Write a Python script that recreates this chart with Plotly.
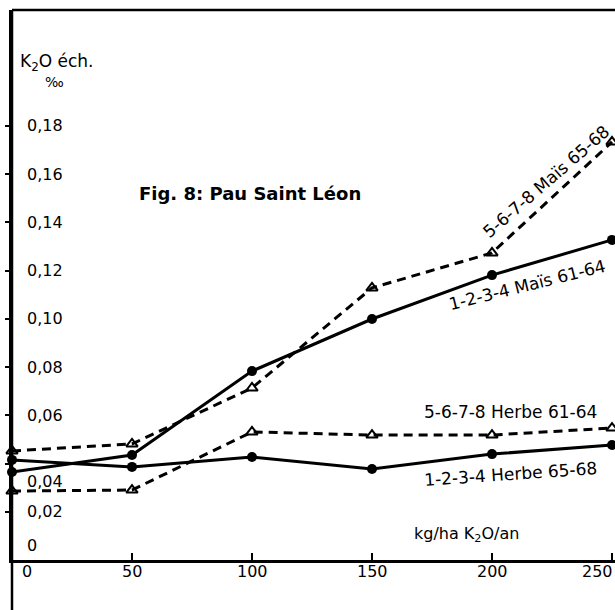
import plotly.graph_objects as go

# ---- data ----
doses = [0, 50, 100, 150, 200, 250]
mais_61_64 = [0.0365, 0.0435, 0.0783, 0.0999, 0.1181, 0.1327]    # 1-2-3-4 Maïs 61-64 (solid, dots)
herbe_65_68 = [0.0415, 0.0386, 0.0427, 0.0377, 0.0439, 0.0477]   # 1-2-3-4 Herbe 65-68 (solid, dots)
mais_65_68 = [0.0452, 0.0481, 0.0713, 0.1128, 0.1273, 0.1733]    # 5-6-7-8 Maïs 65-68 (dashed, triangles)
herbe_61_64 = [0.0286, 0.0290, 0.0531, 0.0518, 0.0518, 0.0547]   # 5-6-7-8 Herbe 61-64 (dashed, triangles)

y_tick_vals = [0, 0.02, 0.04, 0.06, 0.08, 0.10, 0.12, 0.14, 0.16, 0.18]
y_tick_text = ["0", "0,02", "0,04", "0,06", "0,08", "0,10", "0,12", "0,14", "0,16", "0,18"]
x_tick_vals = [0, 50, 100, 150, 200, 250]
x_tick_text = ["0", "50", "100", "150", "200", "250"]

FONT = "DejaVu Sans"

fig = go.Figure()

solid = dict(color="black", width=3)
dashed = dict(color="black", width=3, dash="9px,6px")
dot_marker = dict(symbol="circle", size=10, color="black")
tri_marker = dict(symbol="triangle-up-open", size=10, color="black", line=dict(width=2, color="black"))

fig.add_trace(go.Scatter(x=doses, y=herbe_61_64, mode="lines+markers", line=dashed, marker=tri_marker, cliponaxis=False))
fig.add_trace(go.Scatter(x=doses, y=mais_65_68, mode="lines+markers", line=dashed, marker=tri_marker, cliponaxis=False))
fig.add_trace(go.Scatter(x=doses, y=herbe_65_68, mode="lines+markers", line=solid, marker=dot_marker, cliponaxis=False))
fig.add_trace(go.Scatter(x=doses, y=mais_61_64, mode="lines+markers", line=solid, marker=dot_marker, cliponaxis=False))

ann = []
# y tick labels (inside the axis)
for v, t in zip(y_tick_vals, y_tick_text):
    ys = 0
    if t == "0":
        ys = 15
    elif t == "0,04":
        ys = -18
    ann.append(dict(x=0, y=v, xref="x", yref="y", text=t, showarrow=False,
                    xanchor="left", yanchor="middle", xshift=13, yshift=ys,
                    font=dict(family=FONT, size=16, color="black")))
# x tick labels
for v, t in zip(x_tick_vals, x_tick_text):
    xs = 0
    if v == 0:
        xs = 15
    elif v == 250:
        xs = -15
    ann.append(dict(x=v, y=0, xref="x", yref="y", text=t, showarrow=False,
                    xanchor="center", yanchor="middle", xshift=xs, yshift=-11,
                    font=dict(family=FONT, size=16, color="black")))

lab_font = dict(family=FONT, size=17, color="black")
ann += [
    dict(x=222.9, y=0.157, text="5-6-7-8 Maïs 65-68", textangle=-41, showarrow=False, font=lab_font),
    dict(x=214.6, y=0.114, text="1-2-3-4 Maïs 61-64", textangle=-14, showarrow=False, font=lab_font),
    dict(x=207.9, y=0.0614, text="5-6-7-8 Herbe 61-64", textangle=0, showarrow=False, font=lab_font),
    dict(x=207.9, y=0.0357, text="1-2-3-4 Herbe 65-68", textangle=-4, showarrow=False, font=lab_font),
    dict(x=99.2, y=0.152, text="<b>Fig. 8: Pau Saint Léon</b>", showarrow=False,
         font=dict(family=FONT, size=18, color="black")),
    dict(x=0.01, xref="paper", y=0.2064, text="K<sub>2</sub>O éch.", showarrow=False, xanchor="left",
         font=dict(family=FONT, size=17, color="black")),
    dict(x=17.5, y=0.198, text="‰", showarrow=False, font=dict(family=FONT, size=14, color="black")),
    dict(x=166.7, y=0.0104, text="kg/ha K<sub>2</sub>O/an", showarrow=False, xanchor="left",
         font=dict(family=FONT, size=16, color="black")),
]

fig.update_layout(
    width=615, height=610,
    margin=dict(l=12, r=0, t=10, b=50),
    paper_bgcolor="white", plot_bgcolor="white",
    showlegend=False,
    annotations=ann,
    xaxis=dict(range=[0, 251.25], showgrid=False, zeroline=False, showline=True, linecolor="black",
               linewidth=2.5, mirror=False, ticks="inside", ticklen=7, tickwidth=2, tickcolor="black",
               tickvals=x_tick_vals, showticklabels=False, fixedrange=True),
    yaxis=dict(range=[0, 0.228], showgrid=False, zeroline=False, showline=True, linecolor="black",
               linewidth=2.5, ticks="outside", ticklen=4, tickwidth=2, tickcolor="black",
               tickvals=y_tick_vals[1:], showticklabels=False, fixedrange=True),
    shapes=[
        dict(type="line", xref="paper", yref="paper", x0=0, x1=0, y0=-50 / 550, y1=1,
             line=dict(color="black", width=2.5)),
        dict(type="line", xref="paper", yref="paper", x0=0, x1=1, y0=1, y1=1,
             line=dict(color="black", width=2.5)),
    ],
)

fig.write_html("out.html")
